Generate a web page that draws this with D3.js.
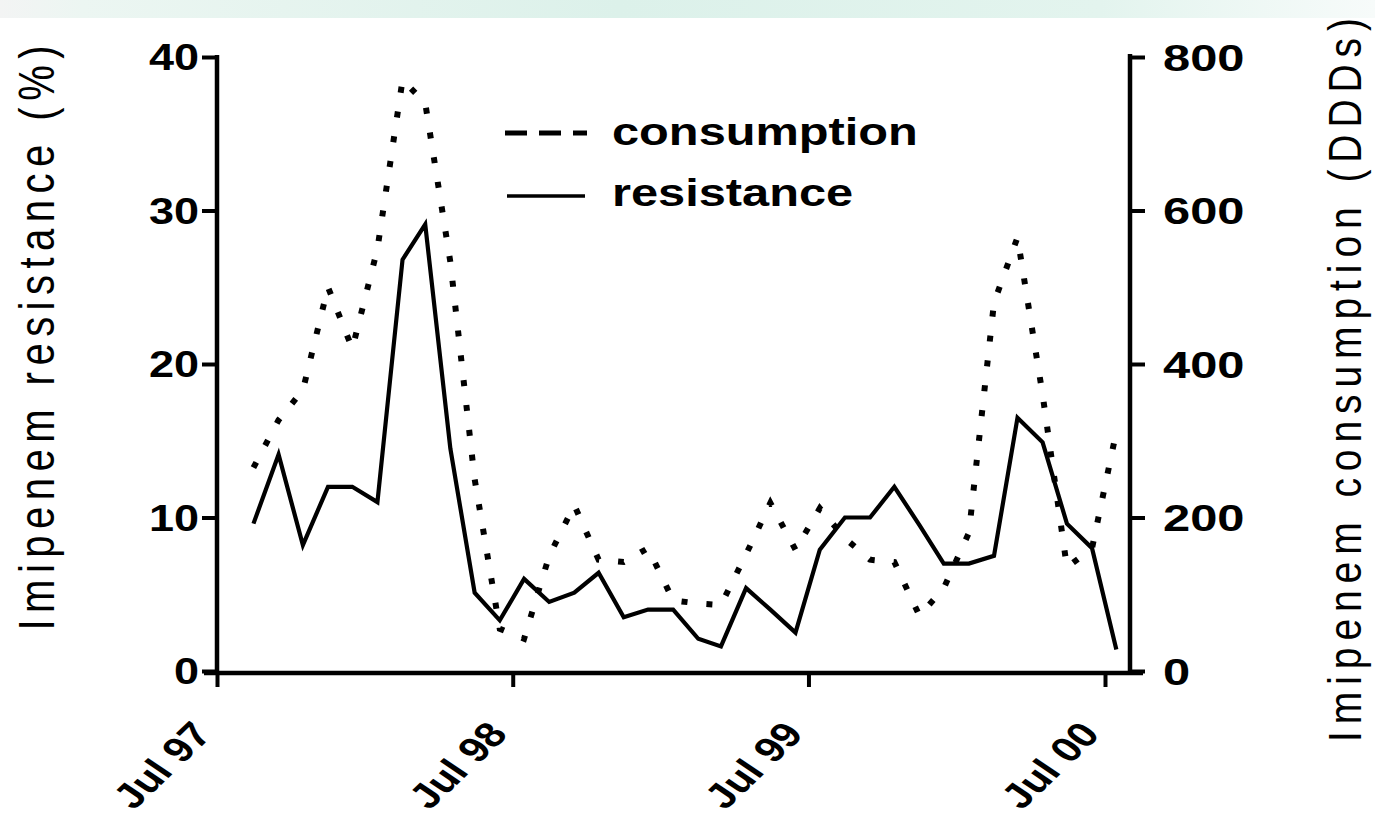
<!DOCTYPE html>
<html>
<head>
<meta charset="utf-8">
<script src="https://cdn.jsdelivr.net/npm/d3@7"></script>
<style>
  html, body { margin: 0; padding: 0; background: #ffffff; }
  svg { display: block; }
</style>
</head>
<body>
<svg id="chart" width="1375" height="817"></svg>
<script>
// Monthly observations, Aug 1997 – Jul 2000
const months = [
  "1997-08","1997-09","1997-10","1997-11","1997-12","1998-01",
  "1998-02","1998-03","1998-04","1998-05","1998-06","1998-07",
  "1998-08","1998-09","1998-10","1998-11","1998-12","1999-01",
  "1999-02","1999-03","1999-04","1999-05","1999-06","1999-07",
  "1999-08","1999-09","1999-10","1999-11","1999-12","2000-01",
  "2000-02","2000-03","2000-04","2000-05","2000-06","2000-07"
];
// Imipenem resistance (%)
const resistance = [
  9.6, 14.1, 8.2, 12.0, 12.0, 11.0,
  26.8, 29.1, 14.5, 5.1, 3.3, 6.0,
  4.5, 5.1, 6.4, 3.5, 4.0, 4.0,
  2.1, 1.6, 5.4, 4.0, 2.5, 7.9,
  10.0, 10.0, 12.0, 9.5, 7.0, 7.0,
  7.5, 16.5, 14.9, 9.6, 8.0, 1.4
];
// Imipenem consumption (DDDs)
const consumption = [
  265, 327, 366, 500, 420, 550,
  770, 740, 533, 250, 55, 42,
  150, 216, 145, 142, 160, 92,
  88, 86, 152, 219, 158, 212,
  173, 145, 142, 72, 108, 180,
  480, 565, 360, 135, 160, 312
];
const leftTicks = [0, 10, 20, 30, 40];
const rightTicks = [0, 200, 400, 600, 800];
const xTickLabels = ["Jul 97", "Jul 98", "Jul 99", "Jul 00"];
const legendLabels = ["consumption", "resistance"];
const leftTitle = "Imipenem resistance (%)";
const rightTitle = "Imipenem consumption (DDDs)";

const svg = d3.select("#chart");
const FONT = "'Liberation Sans', Arial, Helvetica, sans-serif";
const STRETCH = 1.25;   // wide lettering used throughout the figure

// soft tinted strip along the top edge
const defs = svg.append("defs");
const grad = defs.append("linearGradient").attr("id", "topBand")
  .attr("x1", "0%").attr("x2", "100%").attr("y1", "0%").attr("y2", "0%");
[["0%", "#f3f4f4"], ["6%", "#ecf6f2"], ["45%", "#dcf1ea"], ["80%", "#e3f4ee"], ["100%", "#f7fbfa"]]
  .forEach(([o, c]) => grad.append("stop").attr("offset", o).attr("stop-color", c));
svg.append("rect").attr("x", 0).attr("y", 0).attr("width", 1375).attr("height", 18)
  .attr("fill", "url(#topBand)");

// scales
const parseMonth = d3.timeParse("%Y-%m");
const midMonth = s => d3.timeDay.offset(parseMonth(s), 14);
const parseTick = d3.timeParse("%b %y");
const tickDates = xTickLabels.map(parseTick);

const x = d3.scaleTime()
  .domain([tickDates[0], tickDates[tickDates.length - 1]])
  .range([217, 1105]);
const yL = d3.scaleLinear().domain([0, 40]).range([671, 57]);
const yR = d3.scaleLinear().domain([0, 800]).range([671, 57]);

const AXIS_W = 4.5;

// left axis
const gL = svg.append("g").attr("transform", "translate(217,0)")
  .call(d3.axisLeft(yL).tickValues(leftTicks).tickSize(15).tickSizeOuter(0));
gL.select(".domain").attr("stroke", "#000").attr("stroke-width", AXIS_W).attr("d", `M0,${yL(40) - 2}V${yL(0) + 2}`);
gL.selectAll(".tick line").attr("stroke", "#000").attr("stroke-width", 4);
gL.selectAll(".tick text")
  .attr("x", 0).attr("dy", "0.36em")
  .attr("transform", `translate(-18,0) scale(${STRETCH},1)`)
  .attr("text-anchor", "end")
  .style("font-family", FONT).style("font-weight", "bold").style("font-size", "36px")
  .attr("fill", "#000");

// right axis
const gR = svg.append("g").attr("transform", "translate(1130,0)")
  .call(d3.axisRight(yR).tickValues(rightTicks).tickSize(15).tickSizeOuter(0));
gR.select(".domain").attr("stroke", "#000").attr("stroke-width", AXIS_W).attr("d", `M0,${yR(800) - 3}V${yR(0) + 2}`);
gR.selectAll(".tick line").attr("stroke", "#000").attr("stroke-width", 4);
gR.selectAll(".tick text")
  .attr("x", 0).attr("dy", "0.36em")
  .attr("transform", `translate(33,0) scale(1.32,1)`)
  .attr("text-anchor", "start")
  .style("font-family", FONT).style("font-weight", "bold").style("font-size", "37px")
  .attr("fill", "#000");

// bottom axis
const gX = svg.append("g").attr("transform", "translate(0,673)")
  .call(d3.axisBottom(x).tickValues(tickDates).tickSize(14).tickSizeOuter(0)
    .tickFormat(d3.timeFormat("%b %y")));
gX.select(".domain").attr("stroke", "#000").attr("stroke-width", AXIS_W).attr("d", "M204,0H1143");
gX.selectAll(".tick line").attr("stroke", "#000").attr("stroke-width", 4);
gX.selectAll(".tick text")
  .attr("x", 0).attr("y", 0).attr("dy", 0)
  .attr("transform", `translate(-4,62) scale(${STRETCH},1) rotate(-50)`)
  .attr("text-anchor", "end")
  .style("font-family", FONT).style("font-weight", "bold").style("font-size", "35px")
  .attr("fill", "#000");

// series
const rows = months.map((m, i) => ({ date: midMonth(m), r: resistance[i], c: consumption[i] }));

svg.append("path").datum(rows)
  .attr("fill", "none").attr("stroke", "#000")
  .attr("stroke-width", 4.2).attr("stroke-linejoin", "miter").attr("stroke-miterlimit", 10)
  .attr("d", d3.line().x(d => x(d.date)).y(d => yL(d.r)));

svg.append("path").datum(rows)
  .attr("fill", "none").attr("stroke", "#000")
  .attr("stroke-width", 6).attr("stroke-dasharray", "6,19")
  .attr("d", d3.line().x(d => x(d.date)).y(d => yR(d.c)));

// legend
const legend = svg.append("g");
legend.append("line").attr("x1", 505).attr("x2", 587).attr("y1", 133).attr("y2", 133)
  .attr("stroke", "#000").attr("stroke-width", 5).attr("stroke-dasharray", "22,12");
legend.append("line").attr("x1", 507).attr("x2", 585).attr("y1", 196).attr("y2", 196)
  .attr("stroke", "#000").attr("stroke-width", 3.5);
legend.selectAll("text.lg").data(legendLabels).join("text").attr("class", "lg")
  .attr("transform", (d, i) => `translate(612,${i === 0 ? 145 : 206}) scale(${STRETCH},1)`)
  .style("font-family", FONT).style("font-weight", "bold").style("font-size", "39px")
  .attr("fill", "#000").text(d => d);

// axis titles
svg.append("text")
  .attr("transform", `translate(54,338) scale(${STRETCH},1) rotate(-90)`)
  .attr("text-anchor", "middle")
  .attr("textLength", 585).attr("lengthAdjust", "spacing")
  .style("font-family", FONT).style("font-size", "40px").attr("fill", "#000")
  .text(leftTitle);
svg.append("text")
  .attr("transform", `translate(1361,380) scale(1.2,1) rotate(-90)`)
  .attr("text-anchor", "middle")
  .attr("textLength", 724).attr("lengthAdjust", "spacing")
  .style("font-family", FONT).style("font-size", "39px").attr("fill", "#000")
  .text(rightTitle);
</script>
</body>
</html>
